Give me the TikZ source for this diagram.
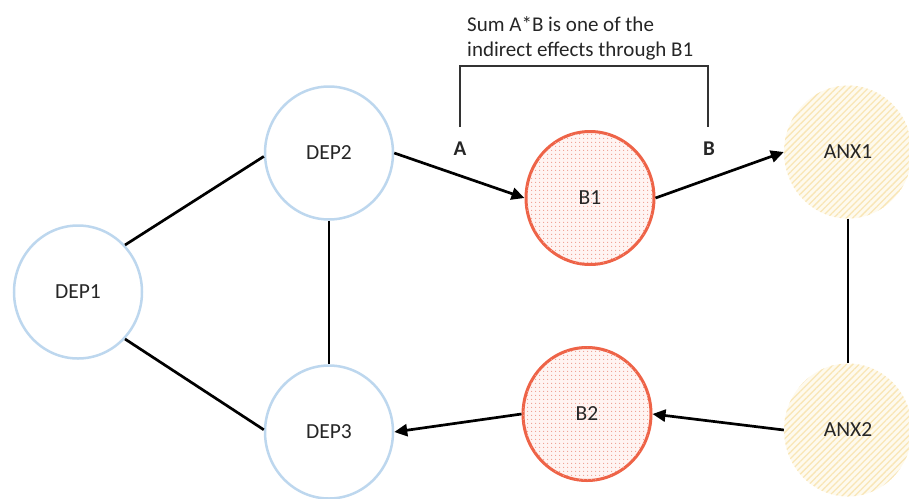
\documentclass[tikz,border=0pt]{standalone}
\usepackage{fontspec}
\setmainfont{Carlito}
\usetikzlibrary{shapes.geometric,arrows.meta,patterns.meta}
\definecolor{depblue}{HTML}{BDD7EE}
\definecolor{bred}{HTML}{EE6347}
\definecolor{bdot}{HTML}{EF9C8E}
\definecolor{bbase}{HTML}{FFF4F2}
\definecolor{anxbase}{HTML}{FEFAEE}
\definecolor{anxline}{HTML}{F9E6B6}
\definecolor{txt}{HTML}{262626}
\definecolor{brk}{HTML}{333333}
\tikzset{
  base/.style={ellipse, minimum width=128pt, minimum height=133pt, inner sep=0pt,
    font=\fontsize{21.5}{25}\selectfont, text=txt},
  dep/.style={base, draw=depblue, line width=2.5pt, fill=white},
  bnode/.style={base, draw=bred, line width=3pt, fill=bbase,
    postaction={pattern={Dots[distance=4pt, radius=0.75pt]}, pattern color=bdot}},
  anx/.style={base, fill=anxbase,
    postaction={pattern={Lines[angle=45, distance=4.5pt, line width=1.3pt]}, pattern color=anxline}},
  link/.style={line width=2.7pt, black},
  arr/.style={link, -{Triangle[length=13pt, width=12pt]}},
  lbl/.style={font=\fontsize{21}{25}\selectfont, text=txt, inner sep=0pt},
}
\begin{document}
\begin{tikzpicture}[x=1pt, y=-1pt]
\useasboundingbox (0,0) rectangle (909,498);
\node[dep] (DEP1) at (78,292) {DEP1};
\node[dep] (DEP2) at (329,153) {DEP2};
\node[dep] (DEP3) at (329,432) {DEP3};
\node[bnode] (B1) at (590,198) {B1};
\node[bnode] (B2) at (587,414) {B2};
\node[anx] (ANX1) at (848,152) {ANX1};
\node[anx] (ANX2) at (848,430) {ANX2};

\draw[link] (DEP1.45) -- (DEP2.183);
\draw[link] (DEP1.-45) -- (DEP3.178);
\draw[link] (DEP2.south) -- (DEP3.north);
\draw[link] (ANX1.south) -- (ANX2.north);
\draw[arr] (DEP2.east) -- (B1.west);
\draw[arr] (B1.east) -- (ANX1.west);
\draw[arr] (ANX2.west) -- (B2.east);
\draw[arr] (B2.west) -- (DEP3.east);

\coordinate (ba) at (460,127);
\coordinate (bb) at (708,127);
\draw[brk, line width=2.2pt] (ba) -- (ba |- 0,66) -- (bb |- 0,66) -- (bb);
\node[lbl, font=\fontsize{21}{25}\selectfont\bfseries] (A) at (460,149) {A};
\node[lbl, font=\fontsize{21}{25}\selectfont\bfseries] (B) at (709,149) {B};
\node[lbl, anchor=base west] (t1) at (467,31) {Sum A*B is one of the};
\node[lbl, anchor=base west] (t2) at (467,56) {indirect effects through B1};
\end{tikzpicture}
\end{document}
